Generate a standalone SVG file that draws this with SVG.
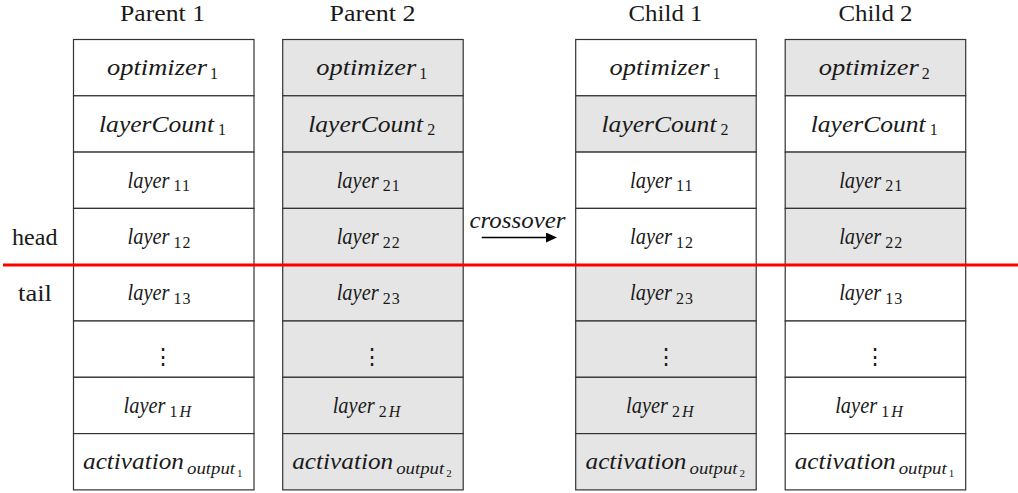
<svg xmlns="http://www.w3.org/2000/svg" width="1018" height="493" viewBox="0 0 1018 493">
<style>
.box{stroke:#333;stroke-width:1.2}
.w{fill:#fff}
.g{fill:#e5e5e5}
text{font-family:'Liberation Serif','DejaVu Serif',serif}
.t{font-size:23px;fill:#1a1a1a}
.m{font-style:italic}
.s{font-size:16px;font-style:normal}
.s2{font-size:16px;font-style:normal;letter-spacing:1px}
.si{font-size:16px;font-style:italic}
.ss{font-size:11px;font-style:normal}
.vd{font-family:'DejaVu Serif',serif;font-size:22px;fill:#1a1a1a;text-anchor:middle}
</style>
<defs>
<marker id="ah" markerUnits="userSpaceOnUse" markerWidth="11" markerHeight="10" refX="0" refY="5" orient="auto">
<path d="M0,0 L11,5 L0,10 z" fill="#000"/>
</marker>
</defs>
<rect width="1018" height="493" fill="#fff"/>

<!-- titles and side labels -->
<g id="labels">
<text class="t" x="120" y="21" textLength="85" lengthAdjust="spacingAndGlyphs">Parent 1</text>
<text class="t" x="329.5" y="21" textLength="86" lengthAdjust="spacingAndGlyphs">Parent 2</text>
<text class="t" x="628.5" y="21" textLength="74" lengthAdjust="spacingAndGlyphs">Child 1</text>
<text class="t" x="838.5" y="21" textLength="74" lengthAdjust="spacingAndGlyphs">Child 2</text>
<text class="t" x="12" y="245" textLength="45.5" lengthAdjust="spacingAndGlyphs">head</text>
<text class="t" x="18" y="300.5" textLength="34" lengthAdjust="spacingAndGlyphs">tail</text>
</g>

<!-- Parent 1 -->
<g id="parent1">
<g id="p1-r0"><rect class="box w" x="73.5" y="39.5" width="180.5" height="56.3"/><text class="t m" y="75"><tspan x="107" textLength="100" lengthAdjust="spacingAndGlyphs">optimizer</tspan><tspan class="s" x="210" dy="3.5">1</tspan></text></g>
<g id="p1-r1"><rect class="box w" x="73.5" y="95.8" width="180.5" height="56.3"/><text class="t m" y="131.5"><tspan x="99" textLength="115" lengthAdjust="spacingAndGlyphs">layerCount</tspan><tspan class="s" x="218" dy="3.5">1</tspan></text></g>
<g id="p1-r2"><rect class="box w" x="73.5" y="152.1" width="180.5" height="56.3"/><text class="t m" y="187.8"><tspan x="127.5" textLength="42" lengthAdjust="spacingAndGlyphs">layer</tspan><tspan class="s2" x="173.5" dy="3.5">11</tspan></text></g>
<g id="p1-r3"><rect class="box w" x="73.5" y="208.4" width="180.5" height="56.3"/><text class="t m" y="244"><tspan x="127.5" textLength="42" lengthAdjust="spacingAndGlyphs">layer</tspan><tspan class="s2" x="173.5" dy="3.5">12</tspan></text></g>
<g id="p1-r4"><rect class="box w" x="73.5" y="264.7" width="180.5" height="56.3"/><text class="t m" y="300.3"><tspan x="127.5" textLength="42" lengthAdjust="spacingAndGlyphs">layer</tspan><tspan class="s2" x="173.5" dy="3.5">13</tspan></text></g>
<g id="p1-r5"><rect class="box w" x="73.5" y="321" width="180.5" height="56.3"/><text class="vd" x="163" y="364">⋮</text></g>
<g id="p1-r6"><rect class="box w" x="73.5" y="377.3" width="180.5" height="56.3"/><text class="t m" y="413"><tspan x="123.5" textLength="42" lengthAdjust="spacingAndGlyphs">layer</tspan><tspan class="s" x="169.5" dy="3.5">1</tspan><tspan class="si" x="179.5">H</tspan></text></g>
<g id="p1-r7"><rect class="box w" x="73.5" y="433.6" width="180.5" height="56.3"/><text class="t m" y="469.3"><tspan x="83" textLength="101" lengthAdjust="spacingAndGlyphs">activation</tspan><tspan class="si" x="187" dy="5" textLength="48" lengthAdjust="spacingAndGlyphs">output</tspan><tspan class="ss" x="237" dy="2.5">1</tspan></text></g>
</g>

<!-- Parent 2 -->
<g id="parent2">
<g id="p2-r0"><rect class="box g" x="282.7" y="39.5" width="180.5" height="56.3"/><text class="t m" y="75"><tspan x="316.2" textLength="100" lengthAdjust="spacingAndGlyphs">optimizer</tspan><tspan class="s" x="419.2" dy="3.5">1</tspan></text></g>
<g id="p2-r1"><rect class="box g" x="282.7" y="95.8" width="180.5" height="56.3"/><text class="t m" y="131.5"><tspan x="308.2" textLength="115" lengthAdjust="spacingAndGlyphs">layerCount</tspan><tspan class="s" x="427.2" dy="3.5">2</tspan></text></g>
<g id="p2-r2"><rect class="box g" x="282.7" y="152.1" width="180.5" height="56.3"/><text class="t m" y="187.8"><tspan x="336.7" textLength="42" lengthAdjust="spacingAndGlyphs">layer</tspan><tspan class="s2" x="382.7" dy="3.5">21</tspan></text></g>
<g id="p2-r3"><rect class="box g" x="282.7" y="208.4" width="180.5" height="56.3"/><text class="t m" y="244"><tspan x="336.7" textLength="42" lengthAdjust="spacingAndGlyphs">layer</tspan><tspan class="s2" x="382.7" dy="3.5">22</tspan></text></g>
<g id="p2-r4"><rect class="box g" x="282.7" y="264.7" width="180.5" height="56.3"/><text class="t m" y="300.3"><tspan x="336.7" textLength="42" lengthAdjust="spacingAndGlyphs">layer</tspan><tspan class="s2" x="382.7" dy="3.5">23</tspan></text></g>
<g id="p2-r5"><rect class="box g" x="282.7" y="321" width="180.5" height="56.3"/><text class="vd" x="372.2" y="364">⋮</text></g>
<g id="p2-r6"><rect class="box g" x="282.7" y="377.3" width="180.5" height="56.3"/><text class="t m" y="413"><tspan x="332.7" textLength="42" lengthAdjust="spacingAndGlyphs">layer</tspan><tspan class="s" x="378.7" dy="3.5">2</tspan><tspan class="si" x="388.7">H</tspan></text></g>
<g id="p2-r7"><rect class="box g" x="282.7" y="433.6" width="180.5" height="56.3"/><text class="t m" y="469.3"><tspan x="292.2" textLength="101" lengthAdjust="spacingAndGlyphs">activation</tspan><tspan class="si" x="396.2" dy="5" textLength="48" lengthAdjust="spacingAndGlyphs">output</tspan><tspan class="ss" x="446.2" dy="2.5">2</tspan></text></g>
</g>

<!-- Child 1 -->
<g id="child1">
<g id="c1-r0"><rect class="box w" x="575.7" y="39.5" width="180.5" height="56.3"/><text class="t m" y="75"><tspan x="609.5" textLength="100" lengthAdjust="spacingAndGlyphs">optimizer</tspan><tspan class="s" x="712.5" dy="3.5">1</tspan></text></g>
<g id="c1-r1"><rect class="box g" x="575.7" y="95.8" width="180.5" height="56.3"/><text class="t m" y="131.5"><tspan x="601.5" textLength="115" lengthAdjust="spacingAndGlyphs">layerCount</tspan><tspan class="s" x="720.5" dy="3.5">2</tspan></text></g>
<g id="c1-r2"><rect class="box w" x="575.7" y="152.1" width="180.5" height="56.3"/><text class="t m" y="187.8"><tspan x="630" textLength="42" lengthAdjust="spacingAndGlyphs">layer</tspan><tspan class="s2" x="676" dy="3.5">11</tspan></text></g>
<g id="c1-r3"><rect class="box w" x="575.7" y="208.4" width="180.5" height="56.3"/><text class="t m" y="244"><tspan x="630" textLength="42" lengthAdjust="spacingAndGlyphs">layer</tspan><tspan class="s2" x="676" dy="3.5">12</tspan></text></g>
<g id="c1-r4"><rect class="box g" x="575.7" y="264.7" width="180.5" height="56.3"/><text class="t m" y="300.3"><tspan x="630" textLength="42" lengthAdjust="spacingAndGlyphs">layer</tspan><tspan class="s2" x="676" dy="3.5">23</tspan></text></g>
<g id="c1-r5"><rect class="box g" x="575.7" y="321" width="180.5" height="56.3"/><text class="vd" x="665.5" y="364">⋮</text></g>
<g id="c1-r6"><rect class="box g" x="575.7" y="377.3" width="180.5" height="56.3"/><text class="t m" y="413"><tspan x="626" textLength="42" lengthAdjust="spacingAndGlyphs">layer</tspan><tspan class="s" x="672" dy="3.5">2</tspan><tspan class="si" x="682">H</tspan></text></g>
<g id="c1-r7"><rect class="box g" x="575.7" y="433.6" width="180.5" height="56.3"/><text class="t m" y="469.3"><tspan x="585.5" textLength="101" lengthAdjust="spacingAndGlyphs">activation</tspan><tspan class="si" x="689.5" dy="5" textLength="48" lengthAdjust="spacingAndGlyphs">output</tspan><tspan class="ss" x="739.5" dy="2.5">2</tspan></text></g>
</g>

<!-- Child 2 -->
<g id="child2">
<g id="c2-r0"><rect class="box g" x="785.2" y="39.5" width="180.5" height="56.3"/><text class="t m" y="75"><tspan x="818.7" textLength="100" lengthAdjust="spacingAndGlyphs">optimizer</tspan><tspan class="s" x="921.7" dy="3.5">2</tspan></text></g>
<g id="c2-r1"><rect class="box w" x="785.2" y="95.8" width="180.5" height="56.3"/><text class="t m" y="131.5"><tspan x="810.7" textLength="115" lengthAdjust="spacingAndGlyphs">layerCount</tspan><tspan class="s" x="929.7" dy="3.5">1</tspan></text></g>
<g id="c2-r2"><rect class="box g" x="785.2" y="152.1" width="180.5" height="56.3"/><text class="t m" y="187.8"><tspan x="839.2" textLength="42" lengthAdjust="spacingAndGlyphs">layer</tspan><tspan class="s2" x="885.2" dy="3.5">21</tspan></text></g>
<g id="c2-r3"><rect class="box g" x="785.2" y="208.4" width="180.5" height="56.3"/><text class="t m" y="244"><tspan x="839.2" textLength="42" lengthAdjust="spacingAndGlyphs">layer</tspan><tspan class="s2" x="885.2" dy="3.5">22</tspan></text></g>
<g id="c2-r4"><rect class="box w" x="785.2" y="264.7" width="180.5" height="56.3"/><text class="t m" y="300.3"><tspan x="839.2" textLength="42" lengthAdjust="spacingAndGlyphs">layer</tspan><tspan class="s2" x="885.2" dy="3.5">13</tspan></text></g>
<g id="c2-r5"><rect class="box w" x="785.2" y="321" width="180.5" height="56.3"/><text class="vd" x="874.7" y="364">⋮</text></g>
<g id="c2-r6"><rect class="box w" x="785.2" y="377.3" width="180.5" height="56.3"/><text class="t m" y="413"><tspan x="835.2" textLength="42" lengthAdjust="spacingAndGlyphs">layer</tspan><tspan class="s" x="881.2" dy="3.5">1</tspan><tspan class="si" x="891.2">H</tspan></text></g>
<g id="c2-r7"><rect class="box w" x="785.2" y="433.6" width="180.5" height="56.3"/><text class="t m" y="469.3"><tspan x="794.7" textLength="101" lengthAdjust="spacingAndGlyphs">activation</tspan><tspan class="si" x="898.7" dy="5" textLength="48" lengthAdjust="spacingAndGlyphs">output</tspan><tspan class="ss" x="948.7" dy="2.5">1</tspan></text></g>
</g>

<!-- connectors -->
<g id="connectors">
<line x1="481.7" y1="237.5" x2="546" y2="237.5" stroke="#000" stroke-width="1.3" marker-end="url(#ah)"/>
<text class="t m" x="469.5" y="227.5" textLength="96" lengthAdjust="spacingAndGlyphs">crossover</text>
</g>

<!-- head / tail split -->
<g id="split">
<line x1="3" y1="265" x2="1018" y2="265" stroke="#ff0000" stroke-width="3"/>
</g>
</svg>
